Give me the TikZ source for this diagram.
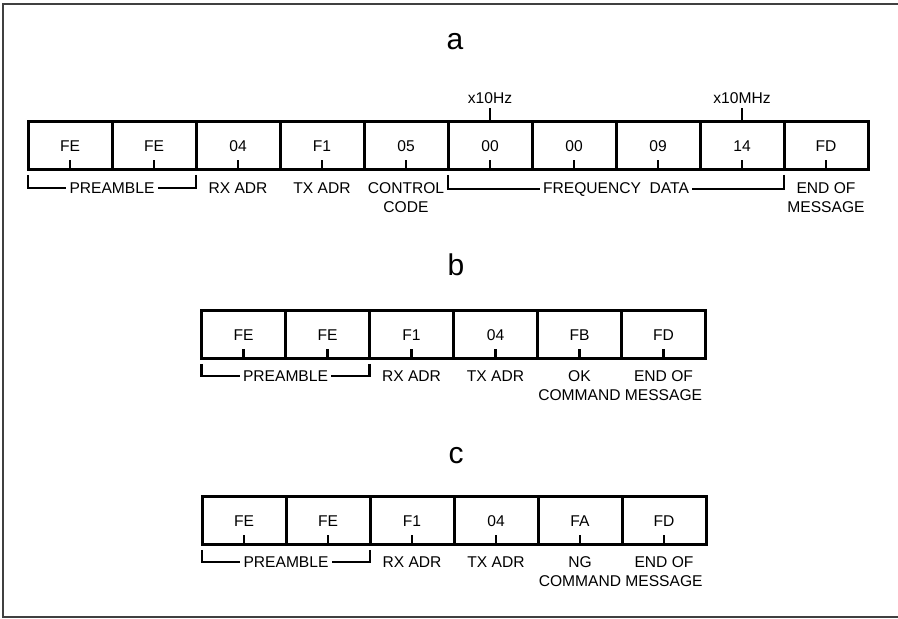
\documentclass[tikz,border=0pt]{standalone}
\usepackage{fontspec}
\setmainfont{Liberation Sans}
\usetikzlibrary{positioning,calc}

\begin{document}
\begin{tikzpicture}[
		x=0.5pt, y=0.5pt,
		cell/.style={draw, rectangle, line width=1.5pt, minimum width=42pt, minimum height=24pt, inner sep=0pt, outer sep=0pt, font=\fontsize{7.8}{9.75}\selectfont},
		lbl/.style={font=\fontsize{7.8}{9.75}\selectfont, align=center, inner sep=0pt},
		brlbl/.style={lbl, inner xsep=1.5pt},
		title/.style={font=\fontsize{15}{18}\selectfont},
		tick/.style={line width=1.1pt},
		bracket/.style={line width=1.1pt},
		frame/.style={line width=1pt, black!75}
		]
		\useasboundingbox (0,0) rectangle (898,619);
		
		% ======================
		% Frame
		% ======================
		\draw[frame] (898,614.5) -- (3,614.5) -- (3,1.5) -- (898,1.5);
		
		% ======================
		% a: FREQUENCY COMMAND
		% ======================
		\node[title] (ta) at (455,577) {a};
		
		\node[cell] (a1) at (70,473) {FE};
		\node[cell, right=0pt of a1] (a2) {FE};
		\node[cell, right=0pt of a2] (a3) {04};
		\node[cell, right=0pt of a3] (a4) {F1};
		\node[cell, right=0pt of a4] (a5) {05};
		\node[cell, right=0pt of a5] (a6) {00};
		\node[cell, right=0pt of a6] (a7) {00};
		\node[cell, right=0pt of a7] (a8) {09};
		\node[cell, right=0pt of a8] (a9) {14};
		\node[cell, right=0pt of a9] (a10) {FD};
		
		\draw[tick] (a1.south) -- ++(0,10) (a2.south) -- ++(0,10)
			(a3.south) -- ++(0,10) (a4.south) -- ++(0,10)
			(a5.south) -- ++(0,10) (a6.south) -- ++(0,10)
			(a7.south) -- ++(0,10) (a8.south) -- ++(0,10)
			(a9.south) -- ++(0,10) (a10.south) -- ++(0,10);
		
		\coordinate (hztop) at ($(a6.north)+(0,14)$);
		\coordinate (mhztop) at ($(a9.north)+(0,14)$);
		\draw[tick] (a6.north) -- (hztop);
		\draw[tick] (a9.north) -- (mhztop);
		\node[lbl, above=2pt of hztop] (hzlbl) {x10Hz};
		\node[lbl, above=2pt of mhztop] (mhzlbl) {x10MHz};
		
		\coordinate (pa) at ($(a1.south west)!0.5!(a2.south east)$);
		\coordinate (fa) at ($(a6.south west)!0.5!(a9.south east)$);
		\node[brlbl, below=6pt of pa] (prea) {PREAMBLE};
		\node[brlbl, below=6pt of fa] (freqa) {FREQUENCY\ \ DATA};
		\draw[bracket] ($(a1.south west)+(0,-5)$) |- (prea.west);
		\draw[bracket] ($(a2.south east)+(0,-5)$) |- (prea.east);
		\draw[bracket] ($(a6.south west)+(0,-5)$) |- (freqa.west);
		\draw[bracket] ($(a9.south east)+(0,-5)$) |- (freqa.east);
		
		\node[lbl, below=6pt of a3.south] (rxa) {RX ADR};
		\node[lbl, below=6pt of a4.south] (txa) {TX ADR};
		\node[lbl, below=6pt of a5.south] (cca) {CONTROL\\CODE};
		\node[lbl, below=6pt of a10.south] (eoma) {END OF\\MESSAGE};
		
		% ======================
		% b: OK REPLY
		% ======================
		\node[title] (tb) at (456,354) {b};
		
		\node[cell] (b1) at (243.5,284) {FE};
		\node[cell, right=0pt of b1] (b2) {FE};
		\node[cell, right=0pt of b2] (b3) {F1};
		\node[cell, right=0pt of b3] (b4) {04};
		\node[cell, right=0pt of b4] (b5) {FB};
		\node[cell, right=0pt of b5] (b6) {FD};
		
		\draw[tick] (b1.south) -- ++(0,10) (b2.south) -- ++(0,10)
			(b3.south) -- ++(0,10) (b4.south) -- ++(0,10)
			(b5.south) -- ++(0,10) (b6.south) -- ++(0,10);
		
		\coordinate (pb) at ($(b1.south west)!0.5!(b2.south east)$);
		\node[brlbl, below=5.5pt of pb] (preb) {PREAMBLE};
		\draw[bracket] ($(b1.south west)+(0,-5)$) |- (preb.west);
		\draw[bracket] ($(b2.south east)+(0,-5)$) |- (preb.east);
		
		\node[lbl, below=5.5pt of b3.south] (rxb) {RX ADR};
		\node[lbl, below=5.5pt of b4.south] (txb) {TX ADR};
		\node[lbl, below=5.5pt of b5.south] (okb) {OK\\COMMAND};
		\node[lbl, below=5.5pt of b6.south] (eomb) {END OF\\MESSAGE};
		
		% ======================
		% c: NG REPLY
		% ======================
		\node[title] (tc) at (456,163) {c};
		
		\node[cell] (c1) at (244,98) {FE};
		\node[cell, right=0pt of c1] (c2) {FE};
		\node[cell, right=0pt of c2] (c3) {F1};
		\node[cell, right=0pt of c3] (c4) {04};
		\node[cell, right=0pt of c4] (c5) {FA};
		\node[cell, right=0pt of c5] (c6) {FD};
		
		\draw[tick] (c1.south) -- ++(0,10) (c2.south) -- ++(0,10)
			(c3.south) -- ++(0,10) (c4.south) -- ++(0,10)
			(c5.south) -- ++(0,10) (c6.south) -- ++(0,10);
		
		\coordinate (pc) at ($(c1.south west)!0.5!(c2.south east)$);
		\node[brlbl, below=5.5pt of pc] (prec) {PREAMBLE};
		\draw[bracket] ($(c1.south west)+(0,-5)$) |- (prec.west);
		\draw[bracket] ($(c2.south east)+(0,-5)$) |- (prec.east);
		
		\node[lbl, below=5.5pt of c3.south] (rxc) {RX ADR};
		\node[lbl, below=5.5pt of c4.south] (txc) {TX ADR};
		\node[lbl, below=5.5pt of c5.south] (ngc) {NG\\COMMAND};
		\node[lbl, below=5.5pt of c6.south] (eomc) {END OF\\MESSAGE};
		
	\end{tikzpicture}
\end{document}
